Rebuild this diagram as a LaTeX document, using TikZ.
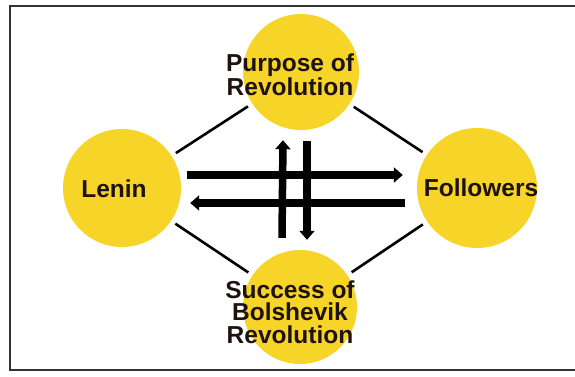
\documentclass[tikz,border=0pt]{standalone}
\usepackage{fontspec}
\setmainfont{Liberation Sans}
\usetikzlibrary{arrows.meta}
\definecolor{discy}{RGB}{247,212,40}
\definecolor{inktext}{RGB}{30,18,14}
\tikzset{
  disc/.style={circle,fill=discy,draw=none,inner sep=0pt},
  lab/.style={font=\fontsize{24.5}{22.5}\selectfont\bfseries,text=inktext,align=center,inner sep=0pt},
  link/.style={line width=2.6pt,black,shorten >=5pt,shorten <=5pt},
  bigarrow/.style={line width=7.5pt,black,-{Triangle[width=15pt,length=9pt]}}
}
\begin{document}
\begin{tikzpicture}[x=1pt,y=-1pt]
\clip (0,0) rectangle (575,377);
\fill[white] (0,0) rectangle (575,377);
\draw[line width=2pt,black!80] (590,6) -- (10,6) -- (10,370) -- (590,370);
\node[disc,minimum size=118pt] (lenin) at (122,188) {};
\node[disc,minimum size=120pt] (followers) at (477,188) {};
\node[disc,minimum size=116pt] (purpose) at (301,72) {};
\node[disc,minimum size=114pt] (success) at (300,307) {};
\draw[link] (lenin) -- (purpose);
\draw[link] (lenin) -- (success);
\draw[link] (followers) -- (purpose);
\draw[link] (followers) -- (success);
\draw[bigarrow] ([xshift=6pt,yshift=13pt]lenin.east) -- ([xshift=-14pt,yshift=13pt]followers.west);
\draw[bigarrow] ([xshift=-12pt,yshift=-15pt]followers.west) -- ([xshift=9pt,yshift=-15pt]lenin.east);
\draw[bigarrow] ([xshift=-18pt,yshift=12pt]success.north) -- ([xshift=-18pt,yshift=-10pt]purpose.south);
\draw[bigarrow] ([xshift=6pt,yshift=-11pt]purpose.south) -- ([xshift=7pt,yshift=10pt]success.north);
\node[lab] (tlenin) at (114,189) {Lenin};
\node[lab] (tfollowers) at (481,188) {Followers};
\node[lab] (tpurpose) at (290,75) {Purpose of\\Revolution};
\node[lab] (tsuccess) at (290,312) {Success of\\Bolshevik\\Revolution};
\end{tikzpicture}
\end{document}
